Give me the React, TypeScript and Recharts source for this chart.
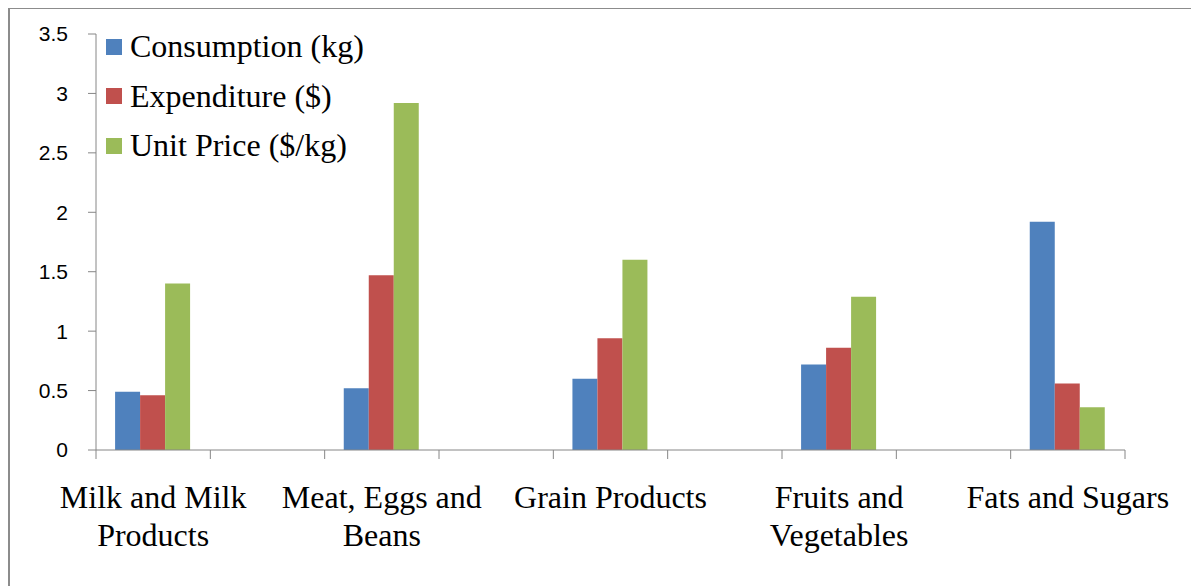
import { BarChart, Bar, XAxis, YAxis, Legend } from 'recharts'

// empty slots between groups keep each group in the left part of a pair of bands
const categories = [
  'Milk and Milk\nProducts', '',
  'Meat, Eggs and\nBeans', '',
  'Grain Products', '',
  'Fruits and\nVegetables', '',
  'Fats and Sugars',
]
const consumption = [0.49, null, 0.52, null, 0.6, null, 0.72, null, 1.92]
const expenditure = [0.46, null, 1.47, null, 0.94, null, 0.86, null, 0.56]
const unitPrice = [1.4, null, 2.92, null, 1.6, null, 1.29, null, 0.36]
const yTicks = [0, 0.5, 1, 1.5, 2, 2.5, 3, 3.5]

const data = categories.map((name, i) => ({
  name,
  consumption: consumption[i],
  expenditure: expenditure[i],
  unitPrice: unitPrice[i],
}))

const AXIS = '#868686'
const SERIF = '"Liberation Serif", "Times New Roman", serif'

function CategoryTick(props: any) {
  const { x, y, payload, index, visibleTicksCount } = props
  const half = payload.offset ?? 0
  const lines = String(payload.value).split('\n').filter(Boolean)
  const last = index === (visibleTicksCount ?? categories.length) - 1
  return (
    <g>
      <line x1={x - half} x2={x - half} y1={y} y2={y + 9} stroke={AXIS} />
      {last && <line x1={x + half} x2={x + half} y1={y} y2={y + 9} stroke={AXIS} />}
      {lines.length > 0 && (
        <text x={x} y={y + 58} textAnchor="middle" fontFamily={SERIF} fontSize={32} fill="#000">
          {lines.map((l, i) => (
            <tspan key={i} x={x} dy={i === 0 ? 0 : 38}>{l}</tspan>
          ))}
        </text>
      )}
    </g>
  )
}

function LegendBox({ payload }: any) {
  return (
    <div>
      {(payload ?? []).map((p: any) => (
        <div key={p.value} style={{ display: 'flex', alignItems: 'center', height: 49.5 }}>
          <span style={{ width: 16, height: 16, background: p.color, marginRight: 8 }} />
          <span style={{ fontFamily: SERIF, fontSize: 32, color: '#000', whiteSpace: 'nowrap' }}>{p.value}</span>
        </div>
      ))}
    </div>
  )
}

export default function App() {
  return (
    <div style={{ position: 'relative', width: 1191, height: 579, marginTop: -1 }}>
      <div style={{ position: 'absolute', left: 0, top: 0, width: 2, height: 579, background: '#8c8c8c' }} />
      <div style={{ position: 'absolute', left: 0, top: 0, width: 1191, height: 2, background: '#8c8c8c' }} />
      <div style={{ position: 'absolute', left: 0, top: 0 }}>
        <BarChart
          width={1191}
          height={579}
          data={data}
          margin={{ top: 27, right: 74, left: 0, bottom: 0 }}
          barCategoryGap="16.7%"
          barGap={0}
        >
          <XAxis
            dataKey="name"
            height={136}
            interval={0}
            tickSize={0}
            tickMargin={0}
            tickLine={false}
            axisLine={{ stroke: AXIS }}
            tick={<CategoryTick />}
          />
          <YAxis
            width={88}
            domain={[0, 3.5]}
            ticks={yTicks}
            tickSize={8}
            tickMargin={20}
            axisLine={{ stroke: AXIS }}
            tickLine={{ stroke: AXIS }}
            tick={{ fontFamily: '"Liberation Sans", Arial, sans-serif', fontSize: 21, fill: '#000' }}
          />
          <Legend
            layout="vertical"
            align="center"
            verticalAlign="middle"
            wrapperStyle={{ left: 98, top: 15, width: 'auto' }}
            content={<LegendBox />}
          />
          <Bar dataKey="consumption" name="Consumption (kg)" fill="#4F81BD" isAnimationActive={false} />
          <Bar dataKey="expenditure" name="Expenditure ($)" fill="#C0504D" isAnimationActive={false} />
          <Bar dataKey="unitPrice" name="Unit Price ($/kg)" fill="#9BBB59" isAnimationActive={false} />
        </BarChart>
      </div>
    </div>
  )
}
